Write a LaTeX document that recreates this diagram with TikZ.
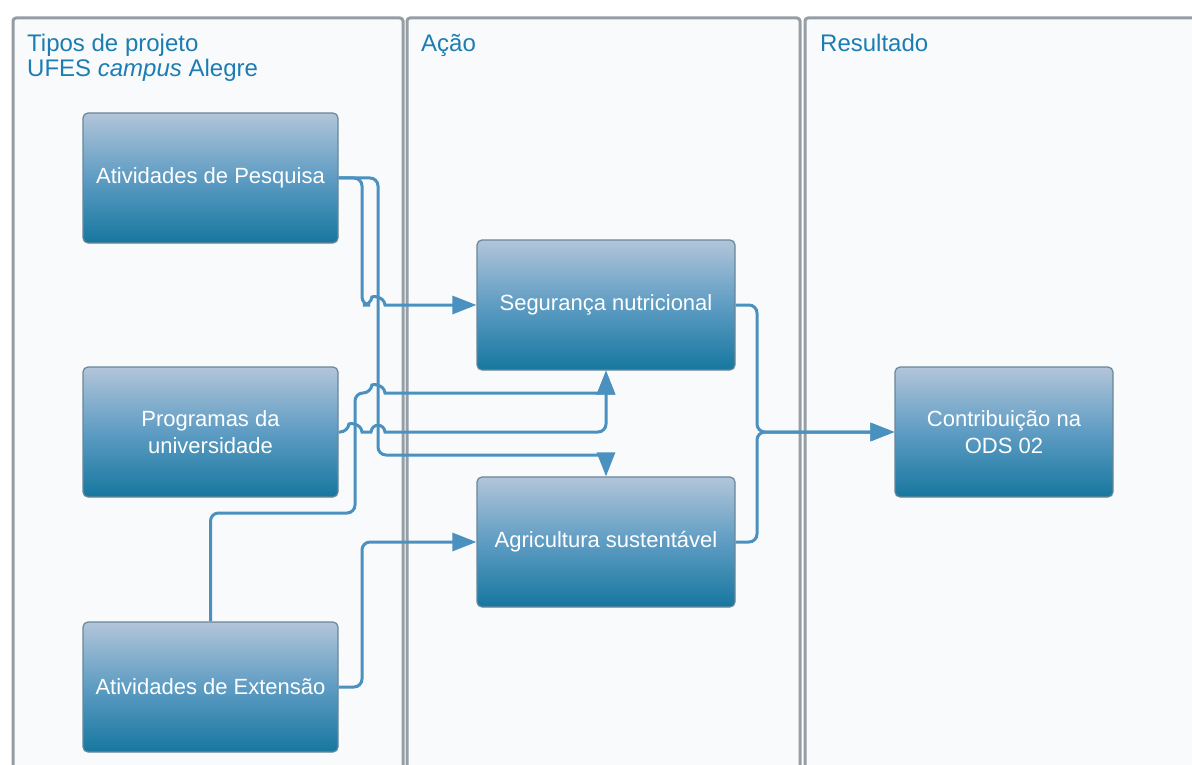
\documentclass[tikz,border=0pt]{standalone}
\usepackage{fontspec}
\setmainfont{Liberation Sans}
\usetikzlibrary{arrows.meta}
\definecolor{titlecol}{HTML}{1C7DB3}
\definecolor{conncol}{HTML}{4A91C0}
\definecolor{lanebd}{HTML}{959DA5}
\definecolor{lanebg}{HTML}{F9FAFB}
\definecolor{boxtop}{HTML}{B2C5D9}
\definecolor{boxmid}{HTML}{5E9CC3}
\definecolor{boxbot}{HTML}{16779F}
\definecolor{boxbd}{HTML}{6A8699}
\begin{document}
\begin{tikzpicture}[x=1pt,y=-1pt,
  lanebox/.style={draw=lanebd,line width=3pt,fill=lanebg,rounded corners=3pt},
  lanetitle/.style={anchor=base west,text=titlecol,font=\fontsize{24}{25}\selectfont,inner sep=0pt,align=left},
  procbox/.style={draw=boxbd,line width=1.2pt,rounded corners=5pt,top color=boxtop,bottom color=boxbot,middle color=boxmid,
    text=white,font=\fontsize{22}{27}\selectfont,align=center,minimum width=255pt,minimum height=130pt,inner sep=0pt},
  conn/.style={draw=conncol,line width=3pt,rounded corners=8pt},
  arr/.style={-{Triangle[length=24pt,width=18pt]}}
]
\clip (0,0) rectangle (1192,765);
\fill[white] (0,0) rectangle (1192,765);
% lanes
\draw[lanebox] (13,18) rectangle (403,800);
\draw[lanebox] (407,18) rectangle (800,800);
\draw[lanebox] (805,18) rectangle (1220,800);
\node[lanetitle] (t1) at (27,77) {Tipos de projeto\\UFES \textit{campus} Alegre};
\node[lanetitle] (t2) at (421,52) {Ação};
\node[lanetitle] (t3) at (820,52) {Resultado};
% boxes
\node[procbox] (pesq) at (210.5,178) {Atividades de Pesquisa};
\node[procbox] (prog) at (210.5,432) {Programas da\\universidade};
\node[procbox] (ext) at (210.5,687) {Atividades de Extensão};
\node[procbox,minimum width=258pt] (seg) at (606,305) {Segurança nutricional};
\node[procbox,minimum width=258pt] (agr) at (606,542) {Agricultura sustentável};
\node[procbox,minimum width=218pt] (ods) at (1004,432) {Contribuição na\\ODS 02};
% connectors
\draw[conn,arr] (pesq.east) -- (378,178) -- (378,455) -- (606,455) -- (agr.north);
\draw[conn,arr] (pesq.east) -- (362,178) -- (362,305) -- (371,305) [sharp corners] .. controls (372,296) and (384,296) .. (385,305) -- (seg.west);
\draw[conn,arr] (prog.east) -- (348,432) [sharp corners] .. controls (349,423) and (361,423) .. (362,432) -- (371,432) .. controls (372,423) and (384,423) .. (385,432) [rounded corners=8pt] -- (395,432) -- (606,432) -- (seg.south);
\draw[conn,arr] (ext.north) -- (210.5,513) -- (355,513) -- (355,393) -- (371,393) [sharp corners] .. controls (372,384) and (384,384) .. (385,393) [rounded corners=8pt] -- (395,393) -- (606,393) -- (seg.south);
\draw[conn,arr] (ext.east) -- (362,687) -- (362,542) -- (agr.west);
\draw[conn,arr] (seg.east) -- (757,305) -- (757,432) -- (ods.west);
\draw[conn,arr] (agr.east) -- (757,542) -- (757,432) -- (ods.west);
\end{tikzpicture}
\end{document}
